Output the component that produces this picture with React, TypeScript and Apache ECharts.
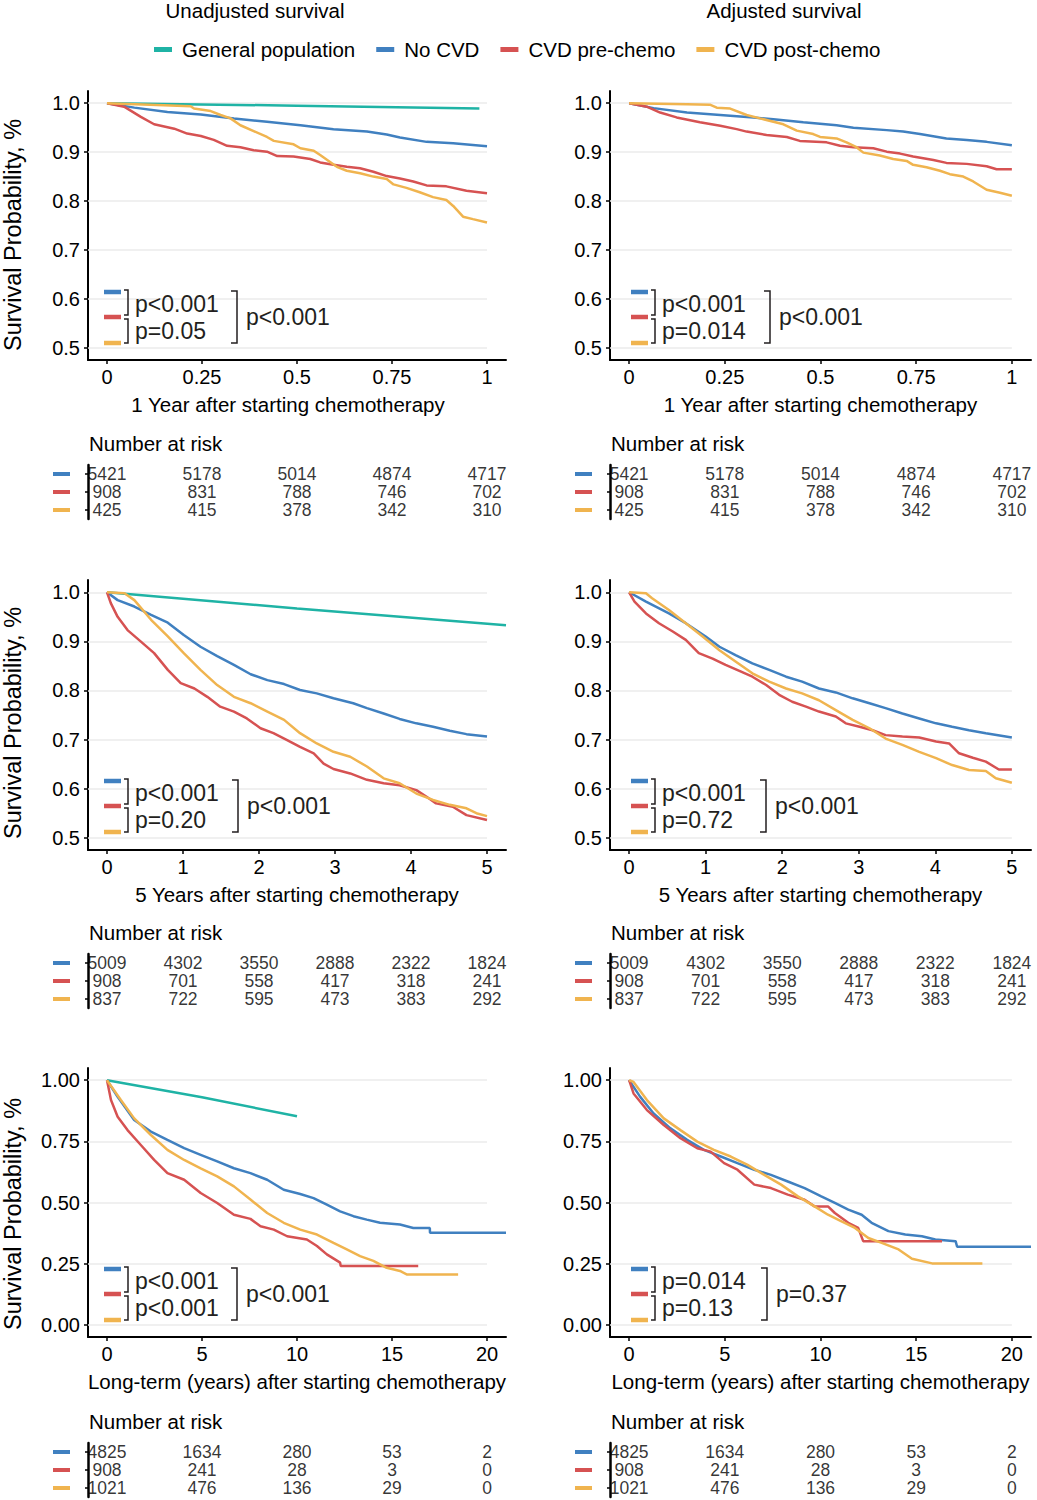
import { useEffect, useRef } from 'react';
import * as echarts from 'echarts';

const GROUPS = ['General population', 'No CVD', 'CVD pre-chemo', 'CVD post-chemo'];
const COLORS = ['#1FB3A5', '#4080C0', '#D65252', '#F0B44F'];
const RISK_ROWS = ['No CVD', 'CVD pre-chemo', 'CVD post-chemo'];

// ---------- 1 year, unadjusted ----------
const genPop1yU = [[0, 1], [0.5, 0.995], [0.98, 0.989]];
const noCvd1yU = [[0, 1], [0.072, 0.991], [0.159, 0.982], [0.247, 0.977], [0.334, 0.969], [0.421, 0.962], [0.509, 0.955], [0.596, 0.947], [0.684, 0.942], [0.736, 0.936], [0.771, 0.93], [0.841, 0.921], [0.911, 0.918], [1.0, 0.912]];
const pre1yU = [[0, 1], [0.045, 0.993], [0.089, 0.972], [0.124, 0.957], [0.177, 0.948], [0.211, 0.938], [0.247, 0.933], [0.281, 0.925], [0.316, 0.913], [0.351, 0.91], [0.386, 0.904], [0.421, 0.901], [0.448, 0.892], [0.491, 0.891], [0.535, 0.886], [0.561, 0.879], [0.596, 0.874], [0.631, 0.87], [0.666, 0.867], [0.701, 0.86], [0.736, 0.851], [0.771, 0.846], [0.806, 0.84], [0.841, 0.832], [0.893, 0.83], [0.946, 0.821], [1.0, 0.816]];
const post1yU = [[0, 1], [0.15, 0.996], [0.22, 0.994], [0.229, 0.989], [0.273, 0.984], [0.299, 0.976], [0.325, 0.969], [0.351, 0.955], [0.386, 0.943], [0.421, 0.931], [0.439, 0.923], [0.491, 0.916], [0.509, 0.908], [0.544, 0.903], [0.561, 0.894], [0.587, 0.88], [0.605, 0.87], [0.631, 0.862], [0.666, 0.857], [0.701, 0.85], [0.736, 0.845], [0.754, 0.834], [0.788, 0.827], [0.823, 0.818], [0.858, 0.808], [0.893, 0.802], [0.911, 0.79], [0.937, 0.768], [0.963, 0.763], [1.0, 0.756]];

// ---------- 1 year, adjusted ----------
const noCvd1yA = [[0, 1], [0.064, 0.99], [0.151, 0.981], [0.238, 0.976], [0.325, 0.971], [0.377, 0.967], [0.455, 0.961], [0.542, 0.955], [0.586, 0.95], [0.673, 0.945], [0.716, 0.942], [0.76, 0.937], [0.829, 0.928], [0.882, 0.925], [0.934, 0.921], [1.0, 0.914]];
const pre1yA = [[0, 1], [0.046, 0.993], [0.081, 0.981], [0.124, 0.971], [0.185, 0.961], [0.238, 0.954], [0.281, 0.947], [0.307, 0.942], [0.359, 0.935], [0.412, 0.931], [0.446, 0.923], [0.516, 0.92], [0.551, 0.913], [0.586, 0.91], [0.638, 0.908], [0.673, 0.901], [0.708, 0.897], [0.742, 0.891], [0.795, 0.884], [0.829, 0.878], [0.882, 0.876], [0.934, 0.871], [0.96, 0.865], [1.0, 0.865]];
const post1yA = [[0, 1], [0.151, 0.998], [0.211, 0.997], [0.229, 0.991], [0.264, 0.989], [0.307, 0.976], [0.342, 0.969], [0.403, 0.957], [0.438, 0.944], [0.481, 0.937], [0.499, 0.931], [0.542, 0.928], [0.568, 0.92], [0.594, 0.91], [0.612, 0.899], [0.655, 0.893], [0.69, 0.886], [0.725, 0.882], [0.742, 0.874], [0.777, 0.869], [0.812, 0.862], [0.838, 0.855], [0.873, 0.85], [0.899, 0.84], [0.934, 0.823], [0.969, 0.817], [1.0, 0.811]];

// ---------- 5 years, unadjusted ----------
const genPop5yU = [[0, 1], [2.5, 0.967], [5.25, 0.933]];
const noCvd5yU = [[0, 1], [0.14, 0.984], [0.36, 0.971], [0.58, 0.954], [0.8, 0.938], [1.01, 0.913], [1.23, 0.889], [1.45, 0.87], [1.67, 0.852], [1.89, 0.833], [2.11, 0.821], [2.33, 0.813], [2.54, 0.801], [2.76, 0.794], [2.98, 0.784], [3.24, 0.774], [3.42, 0.764], [3.64, 0.753], [3.85, 0.742], [4.07, 0.733], [4.29, 0.726], [4.51, 0.718], [4.73, 0.711], [5.0, 0.706]];
const pre5yU = [[0, 1], [0.05, 0.978], [0.14, 0.95], [0.27, 0.923], [0.45, 0.899], [0.62, 0.876], [0.8, 0.842], [0.97, 0.815], [1.15, 0.804], [1.32, 0.787], [1.49, 0.767], [1.67, 0.757], [1.84, 0.743], [2.02, 0.723], [2.19, 0.713], [2.37, 0.699], [2.54, 0.685], [2.72, 0.672], [2.85, 0.651], [2.98, 0.64], [3.2, 0.631], [3.42, 0.618], [3.64, 0.611], [3.85, 0.607], [4.07, 0.597], [4.2, 0.584], [4.33, 0.57], [4.55, 0.563], [4.73, 0.546], [5.0, 0.536]];
const post5yU = [[0, 1], [0.23, 0.998], [0.36, 0.984], [0.58, 0.944], [0.8, 0.91], [1.01, 0.876], [1.23, 0.842], [1.45, 0.811], [1.67, 0.787], [1.89, 0.774], [2.11, 0.757], [2.33, 0.74], [2.54, 0.713], [2.76, 0.692], [2.98, 0.675], [3.2, 0.665], [3.42, 0.645], [3.64, 0.621], [3.85, 0.611], [4.07, 0.59], [4.29, 0.577], [4.51, 0.567], [4.73, 0.56], [4.86, 0.55], [5.0, 0.544]];

// ---------- 5 years, adjusted ----------
const noCvd5yA = [[0, 1], [0.22, 0.981], [0.52, 0.957], [0.74, 0.937], [1.0, 0.91], [1.18, 0.889], [1.39, 0.872], [1.61, 0.855], [1.83, 0.842], [2.05, 0.828], [2.26, 0.818], [2.48, 0.804], [2.7, 0.796], [2.92, 0.784], [3.14, 0.774], [3.35, 0.764], [3.57, 0.753], [3.79, 0.743], [4.01, 0.733], [4.22, 0.726], [4.44, 0.719], [4.66, 0.713], [5.0, 0.704]];
const pre5yA = [[0, 1], [0.07, 0.981], [0.22, 0.957], [0.39, 0.937], [0.57, 0.92], [0.74, 0.903], [0.91, 0.876], [1.09, 0.865], [1.26, 0.852], [1.44, 0.84], [1.61, 0.828], [1.79, 0.811], [1.96, 0.791], [2.13, 0.777], [2.31, 0.767], [2.48, 0.757], [2.7, 0.747], [2.83, 0.733], [3.01, 0.726], [3.18, 0.719], [3.35, 0.709], [3.57, 0.706], [3.79, 0.704], [4.01, 0.696], [4.18, 0.692], [4.31, 0.672], [4.49, 0.663], [4.66, 0.655], [4.83, 0.639], [5.0, 0.639]];
const post5yA = [[0, 1], [0.22, 0.998], [0.3, 0.988], [0.52, 0.964], [0.74, 0.937], [0.96, 0.91], [1.18, 0.882], [1.39, 0.859], [1.61, 0.835], [1.83, 0.818], [2.05, 0.804], [2.26, 0.794], [2.48, 0.78], [2.7, 0.76], [2.92, 0.74], [3.14, 0.723], [3.35, 0.702], [3.57, 0.689], [3.79, 0.675], [4.01, 0.662], [4.22, 0.648], [4.44, 0.638], [4.66, 0.636], [4.79, 0.621], [5.0, 0.612]];

// ---------- Long-term, unadjusted ----------
const genPopLtU = [[0, 1], [5, 0.93], [10, 0.853]];
const noCvdLtU = [[0, 1], [0.56, 0.932], [1.43, 0.837], [2.31, 0.79], [3.18, 0.756], [4.06, 0.722], [4.93, 0.695], [5.8, 0.668], [6.68, 0.64], [7.55, 0.62], [8.43, 0.593], [9.3, 0.552], [10.17, 0.535], [10.87, 0.518], [11.57, 0.491], [12.27, 0.464], [12.97, 0.444], [13.67, 0.43], [14.37, 0.417], [15.42, 0.41], [16.12, 0.396], [16.99, 0.396], [17.0, 0.376], [21.0, 0.376]];
const preLtU = [[0, 1], [0.21, 0.919], [0.56, 0.851], [1.08, 0.796], [1.78, 0.735], [2.48, 0.674], [3.18, 0.62], [4.06, 0.593], [4.93, 0.539], [5.8, 0.498], [6.68, 0.45], [7.55, 0.433], [8.08, 0.403], [8.78, 0.389], [9.48, 0.362], [10.52, 0.349], [11.05, 0.322], [11.57, 0.288], [12.27, 0.254], [12.3, 0.24], [16.38, 0.24]];
const postLtU = [[0, 1], [0.73, 0.919], [1.43, 0.844], [2.31, 0.776], [3.18, 0.715], [4.06, 0.674], [4.93, 0.64], [5.8, 0.607], [6.68, 0.566], [7.55, 0.512], [8.43, 0.457], [9.3, 0.417], [10.17, 0.389], [11.05, 0.369], [11.92, 0.335], [12.62, 0.308], [13.32, 0.281], [14.02, 0.261], [14.72, 0.233], [15.42, 0.22], [15.77, 0.206], [18.48, 0.206]];

// ---------- Long-term, adjusted ----------
const noCvdLtA = [[0, 1], [0.58, 0.932], [1.28, 0.864], [2.16, 0.803], [3.03, 0.756], [3.91, 0.715], [4.79, 0.688], [5.66, 0.661], [6.54, 0.634], [7.41, 0.613], [8.29, 0.586], [9.17, 0.559], [10.04, 0.525], [10.75, 0.498], [11.45, 0.471], [12.15, 0.45], [12.67, 0.417], [13.55, 0.383], [14.43, 0.369], [15.3, 0.362], [16.0, 0.349], [17.06, 0.342], [17.14, 0.319], [21.0, 0.319]];
const preLtA = [[0, 1], [0.23, 0.946], [0.93, 0.878], [1.81, 0.817], [2.68, 0.763], [3.56, 0.722], [4.26, 0.708], [4.96, 0.661], [5.66, 0.634], [6.54, 0.573], [7.41, 0.559], [8.29, 0.532], [9.17, 0.511], [9.69, 0.484], [10.39, 0.484], [10.75, 0.457], [11.45, 0.417], [11.97, 0.396], [12.23, 0.342], [16.35, 0.342]];
const postLtA = [[0, 1], [0.23, 0.993], [0.93, 0.919], [1.81, 0.844], [2.68, 0.796], [3.56, 0.749], [4.43, 0.715], [5.31, 0.688], [6.19, 0.654], [7.06, 0.613], [7.94, 0.573], [8.82, 0.525], [9.69, 0.484], [10.39, 0.45], [11.1, 0.423], [11.8, 0.396], [12.5, 0.355], [13.2, 0.335], [14.08, 0.308], [14.78, 0.27], [15.83, 0.251], [18.46, 0.251]];

// ---------- ticks ----------
const xTicks1y = [0, 0.25, 0.5, 0.75, 1];
const xTicks5y = [0, 1, 2, 3, 4, 5];
const xTicksLt = [0, 5, 10, 15, 20];
const yTicksShort = [0.5, 0.6, 0.7, 0.8, 0.9, 1.0];
const yTicksLong = [0, 0.25, 0.5, 0.75, 1.0];

// ---------- numbers at risk ----------
const risk1yNoCvd = [5421, 5178, 5014, 4874, 4717];
const risk1yPre = [908, 831, 788, 746, 702];
const risk1yPost = [425, 415, 378, 342, 310];
const risk5yNoCvd = [5009, 4302, 3550, 2888, 2322, 1824];
const risk5yPre = [908, 701, 558, 417, 318, 241];
const risk5yPost = [837, 722, 595, 473, 383, 292];
const riskLtNoCvd = [4825, 1634, 280, 53, 2];
const riskLtPre = [908, 241, 28, 3, 0];
const riskLtPost = [1021, 476, 136, 29, 0];

// ---------- p-values (No CVD vs pre, pre vs post, overall) ----------
const p1yU = ['p<0.001', 'p=0.05', 'p<0.001'];
const p1yA = ['p<0.001', 'p=0.014', 'p<0.001'];
const p5yU = ['p<0.001', 'p=0.20', 'p<0.001'];
const p5yA = ['p<0.001', 'p=0.72', 'p<0.001'];
const pLtU = ['p<0.001', 'p<0.001', 'p<0.001'];
const pLtA = ['p=0.014', 'p=0.13', 'p=0.37'];

const FONT = "'Liberation Sans', Arial, Helvetica, sans-serif";

export default function App() {
  const ref = useRef<HTMLDivElement>(null);

  useEffect(() => {
    document.body.style.margin = '0';
    if (!ref.current) return;
    const chart = echarts.init(ref.current, undefined, { renderer: 'svg' });

    const panels = [
      { left: 88, top: 91, width: 418, height: 269, xMin: -0.05, xMax: 1.05, xTicks: xTicks1y, yMin: 0.475, yMax: 1.025, yTicks: yTicksShort, dec: 1, xTitle: '1 Year after starting chemotherapy', xShift: 18, yTitle: true, yTitleY: 235, curves: [genPop1yU, noCvd1yU, pre1yU, post1yU], pvals: p1yU, bigX: 237, riskTitleY: 443, riskTop: 465, risk: [risk1yNoCvd, risk1yPre, risk1yPost] },
      { left: 610, top: 91, width: 421, height: 269, xMin: -0.05, xMax: 1.05, xTicks: xTicks1y, yMin: 0.475, yMax: 1.025, yTicks: yTicksShort, dec: 1, xTitle: '1 Year after starting chemotherapy', xShift: 0, yTitle: false, yTitleY: 0, curves: [null, noCvd1yA, pre1yA, post1yA], pvals: p1yA, bigX: 770, riskTitleY: 443, riskTop: 465, risk: [risk1yNoCvd, risk1yPre, risk1yPost] },
      { left: 88, top: 580, width: 418, height: 270, xMin: -0.25, xMax: 5.25, xTicks: xTicks5y, yMin: 0.475, yMax: 1.025, yTicks: yTicksShort, dec: 1, xTitle: '5 Years after starting chemotherapy', xShift: 0, yTitle: true, yTitleY: 723, curves: [genPop5yU, noCvd5yU, pre5yU, post5yU], pvals: p5yU, bigX: 238, riskTitleY: 932, riskTop: 954, risk: [risk5yNoCvd, risk5yPre, risk5yPost] },
      { left: 610, top: 580, width: 421, height: 270, xMin: -0.25, xMax: 5.25, xTicks: xTicks5y, yMin: 0.475, yMax: 1.025, yTicks: yTicksShort, dec: 1, xTitle: '5 Years after starting chemotherapy', xShift: 0, yTitle: false, yTitleY: 0, curves: [null, noCvd5yA, pre5yA, post5yA], pvals: p5yA, bigX: 766, riskTitleY: 932, riskTop: 954, risk: [risk5yNoCvd, risk5yPre, risk5yPost] },
      { left: 88, top: 1068, width: 418, height: 269, xMin: -1, xMax: 21, xTicks: xTicksLt, yMin: -0.05, yMax: 1.05, yTicks: yTicksLong, dec: 2, xTitle: 'Long-term (years) after starting chemotherapy', xShift: 0, yTitle: true, yTitleY: 1214, curves: [genPopLtU, noCvdLtU, preLtU, postLtU], pvals: pLtU, bigX: 237, riskTitleY: 1421, riskTop: 1443, risk: [riskLtNoCvd, riskLtPre, riskLtPost] },
      { left: 610, top: 1068, width: 421, height: 269, xMin: -1, xMax: 21, xTicks: xTicksLt, yMin: -0.05, yMax: 1.05, yTicks: yTicksLong, dec: 2, xTitle: 'Long-term (years) after starting chemotherapy', xShift: 0, yTitle: false, yTitleY: 0, curves: [null, noCvdLtA, preLtA, postLtA], pvals: pLtA, bigX: 767, riskTitleY: 1421, riskTop: 1443, risk: [riskLtNoCvd, riskLtPre, riskLtPost] },
    ];

    const grid: any[] = [];
    const xAxis: any[] = [];
    const yAxis: any[] = [];
    const series: any[] = [];
    const graphic: any[] = [];

    graphic.push(
      { type: 'text', z: 100, x: 255, y: 10, style: { text: 'Unadjusted survival', fontSize: 20.5, fontFamily: FONT, fill: '#000', align: 'center', verticalAlign: 'middle' } },
      { type: 'text', z: 100, x: 784, y: 10, style: { text: 'Adjusted survival', fontSize: 20.5, fontFamily: FONT, fill: '#000', align: 'center', verticalAlign: 'middle' } }
    );

    panels.forEach((p, pi) => {
      const gi = pi * 2;
      const ti = pi * 2 + 1;
      grid.push({ left: p.left, top: p.top, width: p.width, height: p.height, containLabel: false });
      grid.push({ left: p.left, top: p.riskTop, width: p.width, height: 54, containLabel: false });

      xAxis.push({
        type: 'value', gridIndex: gi, min: p.xMin, max: p.xMax,
        axisLine: { show: true, onZero: false, lineStyle: { color: '#000', width: 2 } },
        axisTick: { show: true, customValues: p.xTicks, length: 4, lineStyle: { color: '#000', width: 1.5 } },
        axisLabel: { show: true, customValues: p.xTicks, fontSize: 20, fontFamily: FONT, color: '#000', margin: 7, formatter: (v: number) => String(v) },
        splitLine: { show: false },
        name: p.xTitle, nameLocation: 'middle', nameGap: 34,
        nameTextStyle: { fontSize: 20.5, fontFamily: FONT, color: '#000', padding: [0, p.xShift, 0, 0] },
      });
      yAxis.push({
        type: 'value', gridIndex: gi, min: p.yMin, max: p.yMax,
        axisLine: { show: true, onZero: false, lineStyle: { color: '#000', width: 2 } },
        axisTick: { show: true, customValues: p.yTicks, length: 4, lineStyle: { color: '#000', width: 1.5 } },
        axisLabel: { show: true, customValues: p.yTicks, fontSize: 20, fontFamily: FONT, color: '#000', margin: 8, formatter: (v: number) => v.toFixed(p.dec) },
        splitLine: { show: false },
      });

      // risk table axes
      xAxis.push({ type: 'value', gridIndex: ti, min: p.xMin, max: p.xMax, show: false });
      yAxis.push({
        type: 'category', gridIndex: ti, data: RISK_ROWS, inverse: true,
        axisLine: { show: true, onZero: false, lineStyle: { color: '#000', width: 2.5 } },
        axisTick: { show: true, alignWithLabel: true, length: 3, lineStyle: { color: '#000', width: 1.5 } },
        axisLabel: {
          margin: 18,
          formatter: (_v: string, i: number) => `{c${i}| }`,
          rich: {
            c0: { backgroundColor: COLORS[1], width: 17, height: 4, lineHeight: 4, fontSize: 4 },
            c1: { backgroundColor: COLORS[2], width: 17, height: 4, lineHeight: 4, fontSize: 4 },
            c2: { backgroundColor: COLORS[3], width: 17, height: 4, lineHeight: 4, fontSize: 4 },
          },
        },
        splitLine: { show: false },
      });

      // grid lines (end at last tick, like the reference)
      const lastTick = p.xTicks[p.xTicks.length - 1];
      series.push({
        type: 'line', xAxisIndex: gi, yAxisIndex: gi, data: [], silent: true, z: 1,
        markLine: {
          silent: true, symbol: 'none', z: 1, animation: false,
          label: { show: false },
          lineStyle: { color: '#EBEBEB', width: 1.5, type: 'solid' },
          data: p.yTicks.map((v) => [{ coord: [p.xMin, v] }, { coord: [lastTick, v] }]),
        },
      });

      p.curves.forEach((c, k) => {
        if (!c) return;
        series.push({
          type: 'line', name: GROUPS[k], xAxisIndex: gi, yAxisIndex: gi, data: c,
          showSymbol: false, symbol: 'none', silent: true, z: 3,
          lineStyle: { color: COLORS[k], width: 2.5 }, itemStyle: { color: COLORS[k] },
        });
      });

      const tableData: any[] = [];
      p.risk.forEach((arr, r) => arr.forEach((n, i) => tableData.push([p.xTicks[i], r, n])));
      series.push({
        type: 'scatter', xAxisIndex: ti, yAxisIndex: ti, data: tableData, symbolSize: 0, silent: true,
        itemStyle: { color: 'transparent' },
        label: { show: true, position: 'inside', formatter: (d: any) => String(d.value[2]), fontSize: 17.5, lineHeight: 17, fontFamily: FONT, color: '#000' },
      });

      // Number at risk title
      graphic.push({ type: 'text', z: 100, x: p.left + 1, y: p.riskTitleY, style: { text: 'Number at risk', fontSize: 20.5, fontFamily: FONT, fill: '#000', verticalAlign: 'middle' } });

      // Y-axis title
      if (p.yTitle) {
        graphic.push({ type: 'text', z: 100, x: 12.5, y: p.yTitleY, rotation: Math.PI / 2, style: { text: 'Survival Probability, %', fontSize: 23.5, lineHeight: 22, fontFamily: FONT, fill: '#000', align: 'center', verticalAlign: 'middle' } });
      }

      // p-value annotation
      const isLeft = p.left < 300;
      const dashX = isLeft ? 104 : 631;
      const brX = isLeft ? 128 : 655;
      const txtX = isLeft ? 135 : 662;
      const yb = p.top + 201;
      const yr = p.top + 226;
      const yy = p.top + 252;
      [yb, yr, yy].forEach((yv, k) => {
        graphic.push({ type: 'rect', z: 100, shape: { x: dashX, y: yv - 2.25, width: 17, height: 4.5 }, style: { fill: COLORS[k + 1] } });
      });
      const stroke = { stroke: '#231f20', lineWidth: 1.5, fill: 'none' };
      graphic.push({ type: 'polyline', z: 100, shape: { points: [[brX - 4, yb - 2], [brX, yb - 2], [brX, yr - 2], [brX - 4, yr - 2]] }, style: stroke });
      graphic.push({ type: 'polyline', z: 100, shape: { points: [[brX - 4, yr + 2], [brX, yr + 2], [brX, yy], [brX - 4, yy]] }, style: stroke });
      graphic.push({ type: 'polyline', z: 100, shape: { points: [[p.bigX - 6, yb - 1], [p.bigX, yb - 1], [p.bigX, yy], [p.bigX - 6, yy]] }, style: stroke });
      graphic.push({ type: 'text', z: 100, x: txtX, y: (yb + yr) / 2 - 1, style: { text: p.pvals[0], fontSize: 23, fontFamily: FONT, fill: '#231f20', verticalAlign: 'middle' } });
      graphic.push({ type: 'text', z: 100, x: txtX, y: (yr + yy) / 2 + 1, style: { text: p.pvals[1], fontSize: 23, fontFamily: FONT, fill: '#231f20', verticalAlign: 'middle' } });
      graphic.push({ type: 'text', z: 100, x: p.bigX + 9, y: (yb + yy) / 2 - 1, style: { text: p.pvals[2], fontSize: 23, fontFamily: FONT, fill: '#231f20', verticalAlign: 'middle' } });
    });

    chart.setOption({
      animation: false,
      backgroundColor: '#fff',
      textStyle: { fontFamily: FONT },
      legend: {
        data: GROUPS, left: 149, top: 34, icon: 'rect', itemWidth: 18, itemHeight: 5, itemGap: 21,
        selectedMode: false,
        textStyle: { fontSize: 20.5, color: '#000', fontFamily: FONT, padding: [0, 0, 0, 5] },
      },
      grid, xAxis, yAxis, series, graphic,
    });

    return () => chart.dispose();
  }, []);

  return <div ref={ref} style={{ width: 1037, height: 1500 }} />;
}
